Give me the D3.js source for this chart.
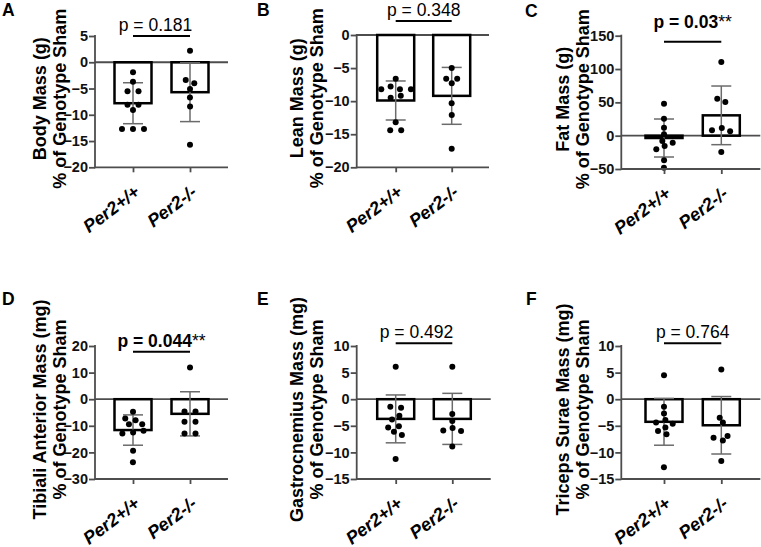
<!DOCTYPE html>
<html>
<head>
<meta charset="utf-8">
<script src="https://d3js.org/d3.v7.min.js"></script>
<style>
  body { margin: 0; background: #fff; }
  svg { display: block; font-family: "Liberation Sans", Arial, sans-serif; }
</style>
</head>
<body>
<svg id="chart" width="761" height="547"></svg>
<script>
// values: % change vs genotype sham
var groups = ['Per2+/+', 'Per2-/-'];
var panelLetters = ['A', 'B', 'C', 'D', 'E', 'F'];
var yTitles = [
    ['Body Mass (g)', '% of Genotype Sham'],
    ['Lean Mass (g)', '% of Genotype Sham'],
    ['Fat Mass (g)', '% of Genotype Sham'],
    ['Tibiali Anterior Mass (mg)', '% of Genotype Sham'],
    ['Gastrocnemius Mass (mg)', '% of Genotype Sham'],
    ['Triceps Surae Mass (mg)', '% of Genotype Sham']
];
var yTicks = [
    [5, 0, -5, -10, -15, -20],
    [0, -5, -10, -15, -20],
    [150, 100, 50, 0, -50],
    [20, 10, 0, -10, -20, -30],
    [10, 5, 0, -5, -10, -15],
    [10, 5, 0, -5, -10, -15]
];
var pLabels = ['p = 0.181', 'p = 0.348', 'p = 0.03', 'p = 0.044', 'p = 0.492', 'p = 0.764'];
var pStars = ['', '', '**', '**', '', ''];

var wtValues = [
    [-1.9, -3.7, -5.5, -5.5, -8.1, -8.1, -9.1, -12.7, -12.7, -12.7],
    [-6.6, -7.8, -8.2, -8.2, -8.2, -9.2, -9.5, -13.2, -14.4, -14.4],
    [48, 25.5, 12, 2, -8, -10.5, -15.6, -20.5, -37, -48],
    [-4.75, -7.25, -7.9, -9.4, -9.4, -11.9, -12.5, -12.9, -19.4, -23.7],
    [6.1, -1.4, -1.6, -3.1, -3.8, -5.1, -5.3, -6.1, -6.75, -11.25],
    [4.5, -1.4, -2.7, -3.9, -4.4, -4.6, -5.3, -6.0, -6.6, -12.8]
];
var koValues = [
    [2.2, -3.4, -4.0, -5.1, -6.7, -8.4, -15.7],
    [-5.0, -6.6, -6.6, -7.3, -10.3, -12.1, -17.2],
    [110.4, 55.5, 50.4, 11.4, 8, 6.5, -24.6],
    [11.9, -4.6, -4.6, -8.5, -8.5, -12.9, -12.9],
    [6.1, -2.8, -4.1, -5.4, -5.9, -6.0, -8.9],
    [5.6, -3.5, -4.4, -6.9, -7.25, -7.75, -11.6]
];
var wtMeans = [-7.8, -9.9, -3.5, -11.6, -3.7, -4.25];
var wtSD = [3.9, 2.95, 28.5, 5.7, 4.5, 4.4];
var koMeans = [-5.7, -9.2, 30.5, -5.5, -3.7, -4.9];
var koSD = [5.6, 4.3, 44, 8.3, 4.8, 5.4];

// panel placement on the page
var layout = [
    {x0: 95, w: 133, c: [38, 95], top: 36, bottom: 167.3, lx: 2, ly: 16, titleOff: 29, pLine: 36, pText: 30.7, pDx: -6},
    {x0: 356.7, w: 132.3, c: [39, 95], top: 35, bottom: 167.3, lx: 257, ly: 16, titleOff: 34, pLine: 21, pText: 15.5, pDx: 0},
    {x0: 621.3, w: 139, c: [42.7, 100], top: 35.7, bottom: 169, lx: 525, ly: 16.7, titleOff: 32, pLine: 41.7, pText: 28.3, pDx: 0},
    {x0: 95, w: 133, c: [38, 95], top: 346, bottom: 479, lx: 2, ly: 305, titleOff: 29, pLine: 351.7, pText: 346.7, pDx: 0},
    {x0: 356.7, w: 134, c: [39, 95.6], top: 346, bottom: 479, lx: 257, ly: 305, titleOff: 34, pLine: 343.3, pText: 338, pDx: -7.5},
    {x0: 621.3, w: 139, c: [42.7, 100], top: 346, bottom: 479, lx: 526, ly: 305, titleOff: 32, pLine: 343.3, pText: 338, pDx: 0}
];

var svg = d3.select('#chart');
var axisColor = '#4d4d4d',
    barWidth = 37,
    capWidth = 20,
    dotR = 3;

// beeswarm: y fixed, x pushed apart (y stretched so rows pack tighter vertically)
function swarm(values, y) {
    var k = 2.2;
    var nodes = values.map(function(v) { return {v: v, fy: y(v) * k}; });
    var sim = d3.forceSimulation(nodes)
        .force('x', d3.forceX(0).strength(0.08))
        .force('collide', d3.forceCollide(5.5).iterations(3))
        .stop();
    for (var i = 0; i < 300; i++) sim.tick();
    return nodes;
}

function drawPanel(i) {
    var L = layout[i];
    var g = svg.append('g').attr('class', 'panel');
    var ticks = yTicks[i];

    var y = d3.scaleLinear().domain([d3.min(ticks), d3.max(ticks)]).range([L.bottom, L.top]);
    var x = d3.scalePoint().domain(groups).range([L.x0 + L.c[0], L.x0 + L.c[1]]);

    var series = [
        {name: groups[0], values: wtValues[i], mean: wtMeans[i], sd: wtSD[i]},
        {name: groups[1], values: koValues[i], mean: koMeans[i], sd: koSD[i]}
    ];

    // zero line
    g.append('line')
        .attr('x1', L.x0).attr('x2', L.x0 + L.w)
        .attr('y1', y(0)).attr('y2', y(0))
        .attr('stroke', axisColor).attr('stroke-width', 1.8);

    // bars
    g.selectAll('rect.bar').data(series).enter().append('rect')
        .attr('class', 'bar')
        .attr('x', function(d) { return x(d.name) - barWidth / 2; })
        .attr('width', barWidth)
        .attr('y', function(d) { return Math.min(y(0), y(d.mean)); })
        .attr('height', function(d) { return Math.abs(y(d.mean) - y(0)); })
        .attr('fill', 'none').attr('stroke', '#000').attr('stroke-width', 2.5);

    // error bars (mean +/- SD)
    var err = g.selectAll('g.err').data(series).enter().append('g')
        .attr('class', 'err')
        .attr('stroke', '#6b6b6b').attr('stroke-width', 1.5);
    err.append('line')
        .attr('x1', function(d) { return x(d.name); })
        .attr('x2', function(d) { return x(d.name); })
        .attr('y1', function(d) { return y(d.mean + d.sd); })
        .attr('y2', function(d) { return y(d.mean - d.sd); });
    err.append('line')
        .attr('x1', function(d) { return x(d.name) - capWidth / 2; })
        .attr('x2', function(d) { return x(d.name) + capWidth / 2; })
        .attr('y1', function(d) { return y(d.mean + d.sd); })
        .attr('y2', function(d) { return y(d.mean + d.sd); });
    err.append('line')
        .attr('x1', function(d) { return x(d.name) - capWidth / 2; })
        .attr('x2', function(d) { return x(d.name) + capWidth / 2; })
        .attr('y1', function(d) { return y(d.mean - d.sd); })
        .attr('y2', function(d) { return y(d.mean - d.sd); });

    // individual animals
    series.forEach(function(s) {
        var nodes = swarm(s.values, y);
        g.append('g').selectAll('circle').data(nodes).enter().append('circle')
            .attr('cx', function(d) { return x(s.name) + d.x; })
            .attr('cy', function(d) { return y(d.v); })
            .attr('r', dotR)
            .attr('fill', '#000');
    });

    // y axis
    var yAxis = d3.axisLeft(y).tickValues(ticks).tickSize(6).tickPadding(1).tickSizeOuter(0);
    var ya = g.append('g').attr('transform', 'translate(' + L.x0 + ',0)').call(yAxis);
    ya.select('.domain').remove();
    ya.append('line').attr('y1', L.top - 1).attr('y2', L.bottom + 1)
        .attr('stroke', axisColor).attr('stroke-width', 1.8);
    ya.selectAll('.tick line').attr('stroke', axisColor).attr('stroke-width', 1.8);
    ya.selectAll('.tick text')
        .attr('fill', '#111').style('font-size', '14.5px').style('font-weight', 'bold');

    // x axis
    var xAxis = d3.axisBottom(x).tickSize(5).tickSizeOuter(0).tickFormat('');
    var xa = g.append('g').attr('transform', 'translate(0,' + L.bottom + ')').call(xAxis);
    xa.select('.domain').remove();
    xa.append('line').attr('x1', L.x0).attr('x2', L.x0 + L.w)
        .attr('stroke', axisColor).attr('stroke-width', 1.8);
    xa.selectAll('.tick line').attr('stroke', axisColor).attr('stroke-width', 1.8);

    g.selectAll('text.xlab').data(groups).enter().append('text')
        .attr('class', 'xlab')
        .attr('transform', function(d) {
            return 'translate(' + (x(d) + 8) + ',' + (L.bottom + 27) + ') rotate(-37)';
        })
        .attr('text-anchor', 'end')
        .style('font-size', '18px').style('font-weight', 'bold').style('font-style', 'italic')
        .text(function(d) { return d; });

    // y title, two lines
    var cy = (L.top + L.bottom) / 2 - 3;
    var title = g.append('text')
        .attr('transform', 'translate(' + (L.x0 - L.titleOff) + ',' + cy + ') rotate(-90)')
        .attr('text-anchor', 'middle')
        .style('font-size', '18px').style('font-weight', 'bold');
    title.append('tspan').attr('x', 0).attr('y', -20).text(yTitles[i][0]);
    title.append('tspan').attr('x', 0).attr('y', 0).text(yTitles[i][1]);

    // panel letter
    g.append('text').attr('x', L.lx).attr('y', L.ly)
        .style('font-size', '17.5px').style('font-weight', 'bold')
        .text(panelLetters[i]);

    // comparison bracket and p value
    g.append('line')
        .attr('x1', x(groups[0])).attr('x2', x(groups[1]))
        .attr('y1', L.pLine).attr('y2', L.pLine)
        .attr('stroke', '#000').attr('stroke-width', 2);
    var mid = (x(groups[0]) + x(groups[1])) / 2 + L.pDx;
    var pt = g.append('text').attr('x', mid).attr('y', L.pText)
        .attr('text-anchor', 'middle')
        .style('font-size', '17.5px')
        .style('font-weight', pStars[i] ? 'bold' : 'normal');
    pt.append('tspan').text(pLabels[i]);
    if (pStars[i]) pt.append('tspan').style('font-weight', 'normal').text(pStars[i]);
}

for (var i = 0; i < layout.length; i++) drawPanel(i);
</script>
</body>
</html>
